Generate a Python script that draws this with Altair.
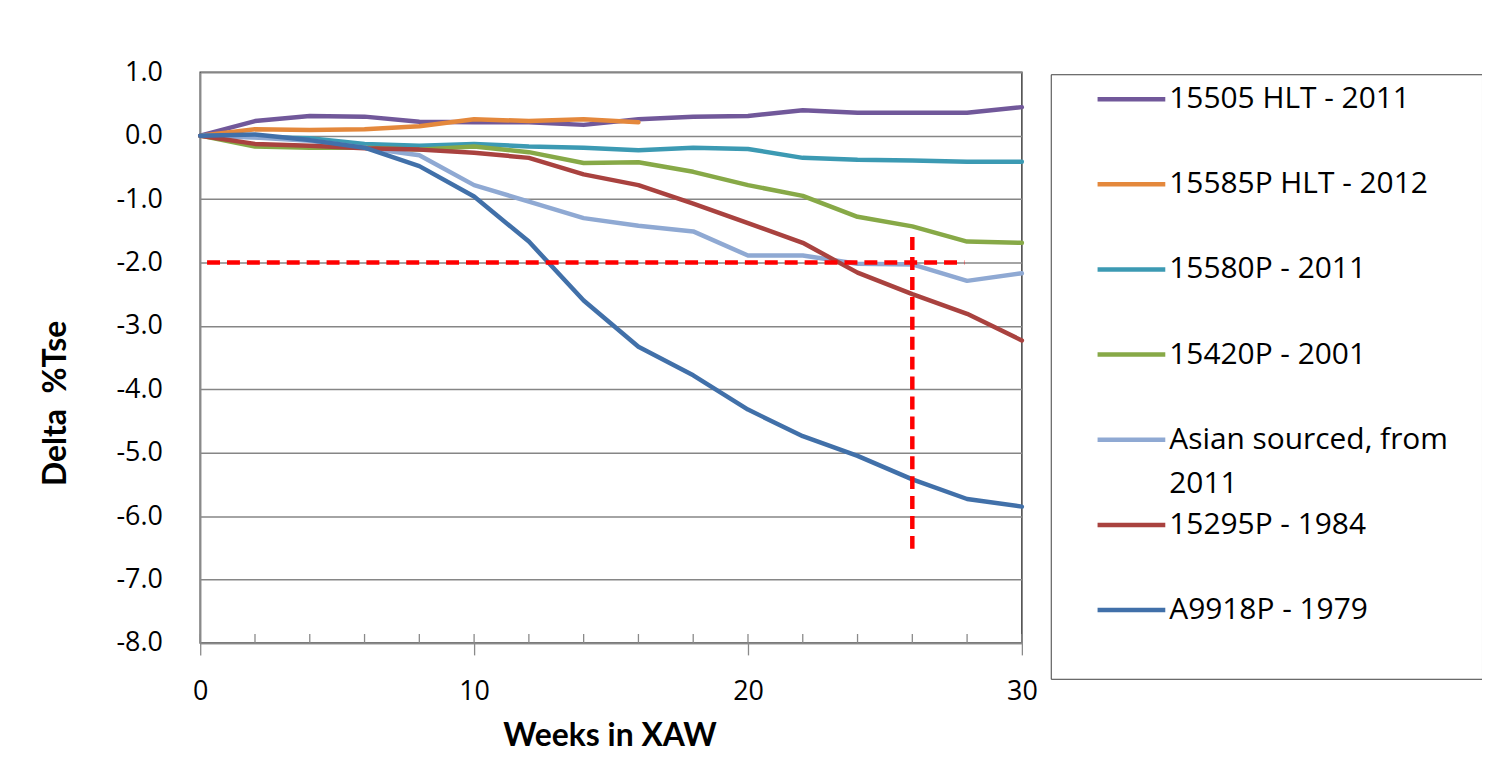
import altair as alt
import pandas as pd

weeks = [0, 2, 4, 6, 8, 10, 12, 14, 16, 18, 20, 22, 24, 26, 28, 30]

series_names = [
    "15505 HLT - 2011",
    "15585P HLT - 2012",
    "15580P - 2011",
    "15420P - 2001",
    "Asian sourced, from 2011",
    "15295P - 1984",
    "A9918P - 1979",
]
series_colors = ["#71589A", "#E4883C", "#3C9AB3", "#87A947", "#8FA9D3", "#A9423F", "#4170A9"]

s15505 = [0, 0.23, 0.31, 0.30, 0.22, 0.21, 0.21, 0.17, 0.26, 0.30, 0.31, 0.40, 0.36, 0.36, 0.36, 0.45]
s15585 = [0, 0.10, 0.09, 0.10, 0.15, 0.26, 0.23, 0.26, 0.21]
s15580 = [0, -0.02, -0.04, -0.13, -0.16, -0.13, -0.17, -0.19, -0.23, -0.19, -0.21, -0.35, -0.38, -0.39, -0.41, -0.41]
s15420 = [0, -0.17, -0.19, -0.19, -0.22, -0.17, -0.26, -0.43, -0.42, -0.57, -0.78, -0.95, -1.28, -1.43, -1.67, -1.69]
s_asian = [0, -0.03, -0.08, -0.19, -0.31, -0.78, -1.04, -1.30, -1.42, -1.51, -1.89, -1.89, -2.02, -2.03, -2.29, -2.17]
s15295 = [0, -0.13, -0.16, -0.20, -0.22, -0.27, -0.35, -0.61, -0.78, -1.07, -1.38, -1.69, -2.16, -2.50, -2.81, -3.23]
sA9918 = [0, 0.02, -0.07, -0.19, -0.48, -0.96, -1.67, -2.60, -3.33, -3.78, -4.32, -4.74, -5.05, -5.42, -5.73, -5.85]

all_series = [s15505, s15585, s15580, s15420, s_asian, s15295, sA9918]

# red dashed reference lines: (x, x2, y, y2)
ref_x = [0.25, 26.0]
ref_x2 = [27.9, 26.0]
ref_y = [-2.0, -1.6]
ref_y2 = [-2.0, -6.6]

y_ticks = [1, 0, -1, -2, -3, -4, -5, -6, -7, -8]
x_labels = [0, 10, 20, 30]

rows = []
for name, vals in zip(series_names, all_series):
    for w, v in zip(weeks, vals):
        rows.append({"series": name, "week": w, "value": v})
df = pd.DataFrame(rows)

ref_df = pd.DataFrame({"x": ref_x, "x2": ref_x2, "y": ref_y, "y2": ref_y2})

PLOT_H = 573
tick_len = 9 / (PLOT_H / 9.0)
tick_df = pd.DataFrame({"week": weeks, "y": [-8] * len(weeks), "y2": [-8 + tick_len] * len(weeks)})

xscale = alt.Scale(domain=[0, 30], nice=False, zero=False)
yscale = alt.Scale(domain=[-8, 1], nice=False, zero=False)
cscale = alt.Scale(domain=series_names, range=series_colors)

label_font = "Open Sans"
title_font = "Lato"
NB = "\u00a0"

x_axis = alt.Axis(
    values=x_labels, grid=False, tickSize=12, tickColor="#8A8A8A", tickWidth=1.3,
    domainColor="#8A8A8A", domainWidth=1.5, labelFont=label_font, labelFontSize=27,
    labelColor="#000000", labelPadding=24, labelFlush=False, title="Weeks in XAW",
    titleFont=title_font, titleFontSize=32, titleFontWeight="bold", titleColor="#000000",
    titleX=411, titleY=93, titleAlign="center", titleBaseline="middle",
)
y_axis = alt.Axis(
    values=y_ticks, format=".1f", grid=True, gridColor="#868686", gridWidth=1.4,
    ticks=False, domainColor="#8A8A8A", domainWidth=1.5, labelFont=label_font,
    labelFontSize=27, labelColor="#000000", labelPadding=38, labelFlush=False,
    labelExpr="replace(datum.label, '\u2212', '-')",
    title="Delta" + NB + " %Tse",
    titleFont=title_font, titleFontSize=32, titleFontWeight="bold", titleColor="#000000",
    titleX=-145, titleY=332, titleAlign="center", titleBaseline="middle", titleAngle=270,
)

legend = alt.Legend(
    title=None, orient="none", legendX=854, legendY=2, strokeColor="#404040",
    padding=10, symbolType="M-4,0H4", symbolSize=289, symbolStrokeWidth=4.5,
    symbolOffset=56, labelOffset=23, labelFont=label_font, labelFontSize=30,
    labelColor="#000000", labelLimit=600, rowPadding=11.5, fillColor="#FFFFFF",
    labelExpr=(
        "datum.label == 'Asian sourced, from 2011' ? ['Asian sourced, from" + NB * 3
        + "\u200b', '2011'] : [datum.label, '']"
    ),
)

layers = []
for i, name in enumerate(series_names):
    layers.append(
        alt.Chart(df)
        .transform_filter(alt.datum.series == name)
        .mark_line(strokeWidth=4.5, strokeJoin="round", strokeCap="round")
        .encode(
            x=alt.X("week:Q", scale=xscale, axis=x_axis),
            y=alt.Y("value:Q", scale=yscale, axis=y_axis),
            color=alt.Color("series:N", scale=cscale, legend=legend),
        )
    )

ticks = alt.Chart(tick_df).mark_rule(color="#8A8A8A", strokeWidth=1.3).encode(
    x=alt.X("week:Q", scale=xscale, axis=x_axis),
    y=alt.Y("y:Q", scale=yscale, axis=y_axis),
    y2="y2:Q",
)

refs = alt.Chart(ref_df).mark_rule(color="#FF0000", strokeWidth=4.5, strokeDash=[13, 7]).encode(
    x=alt.X("x:Q", scale=xscale, axis=x_axis), x2="x2:Q",
    y=alt.Y("y:Q", scale=yscale, axis=y_axis), y2="y2:Q",
)

chart = (
    alt.layer(ticks, *layers, refs)
    .properties(
        width=825, height=PLOT_H,
        autosize=alt.AutoSizeParams(type="none"),
        padding={"left": 193, "top": 63, "right": 462, "bottom": 110},
    )
    .configure(background="#FFFFFF", style={"guide-label": {"lineHeight": 44}})
    .configure_view(stroke="#404040", strokeWidth=1.5)
)

chart.save("out.html", embed_options={"renderer": "svg", "actions": False})
